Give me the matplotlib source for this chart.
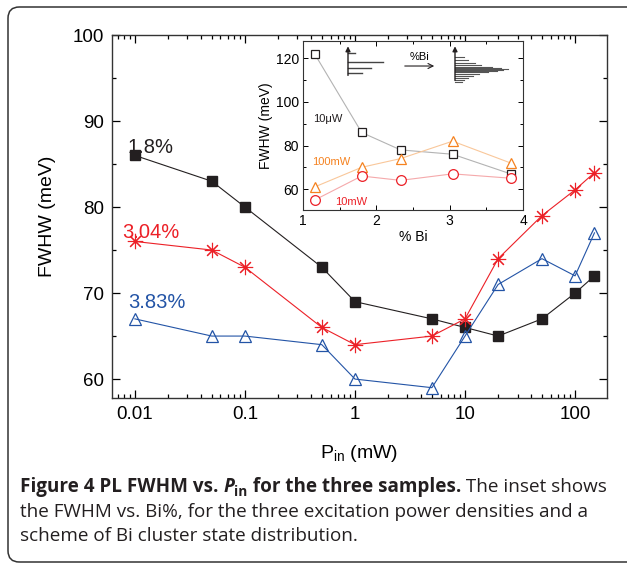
import matplotlib
matplotlib.use("Agg")
import matplotlib.pyplot as plt
from matplotlib.patches import FancyBboxPatch
from matplotlib.ticker import MultipleLocator, FixedLocator, FixedFormatter, LogLocator, NullFormatter

plt.rcParams['font.family'] = ['Liberation Sans', 'DejaVu Sans']
plt.rcParams['mathtext.fontset'] = 'custom'
plt.rcParams['mathtext.rm'] = 'Liberation Sans'
plt.rcParams['mathtext.it'] = 'Liberation Sans:italic'

# ---- main data ----
power_mw = [0.01, 0.05, 0.1, 0.5, 1, 5, 10, 20, 50, 100, 150]
fwhm_18 = [86, 83, 80, 73, 69, 67, 66, 65, 67, 70, 72]
fwhm_304 = [76, 75, 73, 66, 64, 65, 67, 74, 79, 82, 84]
fwhm_383 = [67, 65, 65, 64, 60, 59, 65, 71, 74, 72, 77]
sample_labels = ["1.8%", "3.04%", "3.83%"]

# ---- inset data ----
bi_pct = [1.16, 1.8, 2.33, 3.04, 3.83]
inset_10uW = [122, 86, 78, 76, 67]
inset_100mW = [61, 70, 74, 82, 72]
inset_10mW = [55, 66, 64, 67, 65]

x_ticks = [0.01, 0.1, 1, 10, 100]
x_ticklabels = ["0.01", "0.1", "1", "10", "100"]
y_ticks = [60, 70, 80, 90, 100]

# scheme bars (inset decoration, axes fraction)
left_bar_y = [0.930, 0.876, 0.840, 0.811]
left_bar_len = [0.032, 0.159, 0.104, 0.064]
right_bar_y = [0.905, 0.888, 0.870, 0.858, 0.846, 0.840, 0.834, 0.828, 0.822, 0.816, 0.805, 0.793, 0.781, 0.769, 0.757]
right_bar_len = [0.04, 0.06, 0.09, 0.12, 0.17, 0.21, 0.24, 0.22, 0.19, 0.15, 0.11, 0.08, 0.06, 0.04, 0.03]

W, H = 627, 564
fig = plt.figure(figsize=(W / 100, H / 100), dpi=100)

# frame
frame = FancyBboxPatch((8 / W, 1 - 562 / H), (640 - 8) / W, (562 - 7) / H,
                       boxstyle="round,pad=0,rounding_size=0.018",
                       transform=fig.transFigure, fill=False, ec='#333333', lw=1.1,
                       mutation_aspect=W / H)
fig.patches.append(frame)

black = '#231f20'
red = '#ec2027'
blue = '#2354a6'

ax = fig.add_axes([112 / W, 1 - 398 / H, (607 - 112) / W, (398 - 35) / H])
ax.plot(power_mw, fwhm_18, '-', color=black, lw=0.8, marker='s', ms=6.5, mfc=black, mec=black)
ax.plot(power_mw, fwhm_304, '-', color=red, lw=0.8, marker=(8, 2, 0), ms=11, mec=red, mew=0.8)
ax.plot(power_mw, fwhm_383, '-', color=blue, lw=0.8, marker='^', ms=8.5, mfc='none', mec=blue, mew=0.9)
ax.set_xscale('log')
ax.set_xlim(0.0062, 195)
ax.set_ylim(57.8, 100)
ax.xaxis.set_major_locator(FixedLocator(x_ticks))
ax.xaxis.set_major_formatter(FixedFormatter(x_ticklabels))
ax.xaxis.set_minor_locator(LogLocator(base=10, subs=range(2, 10), numticks=20))
ax.xaxis.set_minor_formatter(NullFormatter())
ax.yaxis.set_major_locator(FixedLocator(y_ticks))
ax.yaxis.set_minor_locator(MultipleLocator(5))
ax.tick_params(which='both', direction='in', top=True, right=True, labelsize=13.5, pad=6)
ax.tick_params(which='major', length=6, width=0.9)
ax.tick_params(which='minor', length=3, width=0.9)
for s in ax.spines.values():
    s.set_linewidth(1.0)
    s.set_color('#333333')
ax.set_xlabel(r'P$_{\rm in}$ (mW)', fontsize=14, labelpad=14)
ax.set_ylabel('FWHW (meV)', fontsize=14, labelpad=12)

ax.text(0.032, 0.689, sample_labels[0], transform=ax.transAxes, color=black, fontsize=14.5, va='center', ha='left')
ax.text(0.02, 0.457, sample_labels[1], transform=ax.transAxes, color=red, fontsize=14.5, va='center', ha='left')
ax.text(0.032, 0.264, sample_labels[2], transform=ax.transAxes, color=blue, fontsize=14.5, va='center', ha='left')

# inset
ia = fig.add_axes([303 / W, 1 - 210 / H, (523 - 303) / W, (210 - 41) / H])
ia.plot(bi_pct, inset_10uW, '-', color='#b3b3b3', lw=0.8, marker='s', ms=6, mfc='white', mec=black, mew=0.9)
ia.plot(bi_pct, inset_100mW, '-', color='#f9c79a', lw=0.8, marker='^', ms=7.5, mfc='white', mec='#f58220', mew=0.9)
ia.plot(bi_pct, inset_10mW, '-', color='#f5a9ab', lw=0.8, marker='o', ms=7, mfc='white', mec=red, mew=0.9)
ia.set_xlim(1, 4)
ia.set_ylim(50.4, 128)
ia.xaxis.set_major_locator(MultipleLocator(1))
ia.xaxis.set_minor_locator(MultipleLocator(0.5))
ia.yaxis.set_minor_locator(MultipleLocator(10))
ia.set_yticks([60, 80, 100, 120])
ia.set_yticklabels(['60', '80', '100', '120'])
ia.tick_params(which='both', direction='in', top=True, right=True, labelsize=10, pad=3)
ia.tick_params(which='major', length=3.5, width=0.7)
ia.tick_params(which='minor', length=2, width=0.7)
for s in ia.spines.values():
    s.set_linewidth(0.8)
    s.set_color('#333333')
ia.set_xlabel('% Bi', fontsize=10, labelpad=1)
ia.set_ylabel('FWHW (meV)', fontsize=10, labelpad=2)
ia.text(0.045, 0.538, '10\u03bcW', transform=ia.transAxes, fontsize=8, color=black, va='center')
ia.text(0.04, 0.284, '100mW', transform=ia.transAxes, fontsize=8, color='#f58220', va='center')
ia.text(0.145, 0.047, '10mW', transform=ia.transAxes, fontsize=8, color=red, va='center')

# scheme: left
lx = (348 - 303) / 220
ia.annotate('', xy=(lx, 0.985), xytext=(lx, 0.78), xycoords='axes fraction',
            arrowprops=dict(arrowstyle='-|>', color=black, lw=1.0, mutation_scale=7))
for yy, ll in zip(left_bar_y, left_bar_len):
    ia.plot([lx, lx + ll], [yy, yy], color='#444444', lw=1.0, transform=ia.transAxes, clip_on=False)
# arrow with %Bi
ia.annotate('', xy=((437 - 303) / 220, 0.852), xytext=((402 - 303) / 220, 0.852), xycoords='axes fraction',
            arrowprops=dict(arrowstyle='->', color=black, lw=0.8, mutation_scale=9))
ia.text((420 - 303) / 220, 0.905, '%Bi', transform=ia.transAxes, fontsize=8, ha='center', va='center')
# right
rx = (455 - 303) / 220
ia.annotate('', xy=(rx, 0.985), xytext=(rx, 0.75), xycoords='axes fraction',
            arrowprops=dict(arrowstyle='-|>', color=black, lw=1.0, mutation_scale=7))
for yy, ll in zip(right_bar_y, right_bar_len):
    ia.plot([rx, rx + ll], [yy, yy], color='#555555', lw=0.8, transform=ia.transAxes, clip_on=False)

# caption
cap_font = ['Open Sans', 'DejaVu Sans']
fs = 13.6
renderer = fig.canvas.get_renderer()
x0 = 20 / W
y1 = 1 - 492 / H
pieces = [
    ("Figure 4 PL FWHM vs. ", dict(weight='bold'), 0),
    ("P", dict(weight='bold', style='italic'), 0),
    ("in", dict(weight='bold', size=fs * 0.72), -4),
    (" for the three samples.", dict(weight='bold'), 0),
    (" The inset shows", dict(weight='normal'), 0),
]
cx = x0
for txt, kw, dy in pieces:
    kk = dict(size=fs, family=cap_font, color='#231f20')
    kk.update(kw)
    t = fig.text(cx, y1 + dy / H, txt, ha='left', va='baseline', **kk)
    bb = t.get_window_extent(renderer=renderer)
    cx += bb.width / W
fig.text(x0, 1 - 517 / H, "the FWHM vs. Bi%, for the three excitation power densities and a",
         size=fs, family=cap_font, color='#231f20', va='baseline')
fig.text(x0, 1 - 541 / H, "scheme of Bi cluster state distribution.",
         size=fs, family=cap_font, color='#231f20', va='baseline')

fig.savefig('out.png', dpi=100)
